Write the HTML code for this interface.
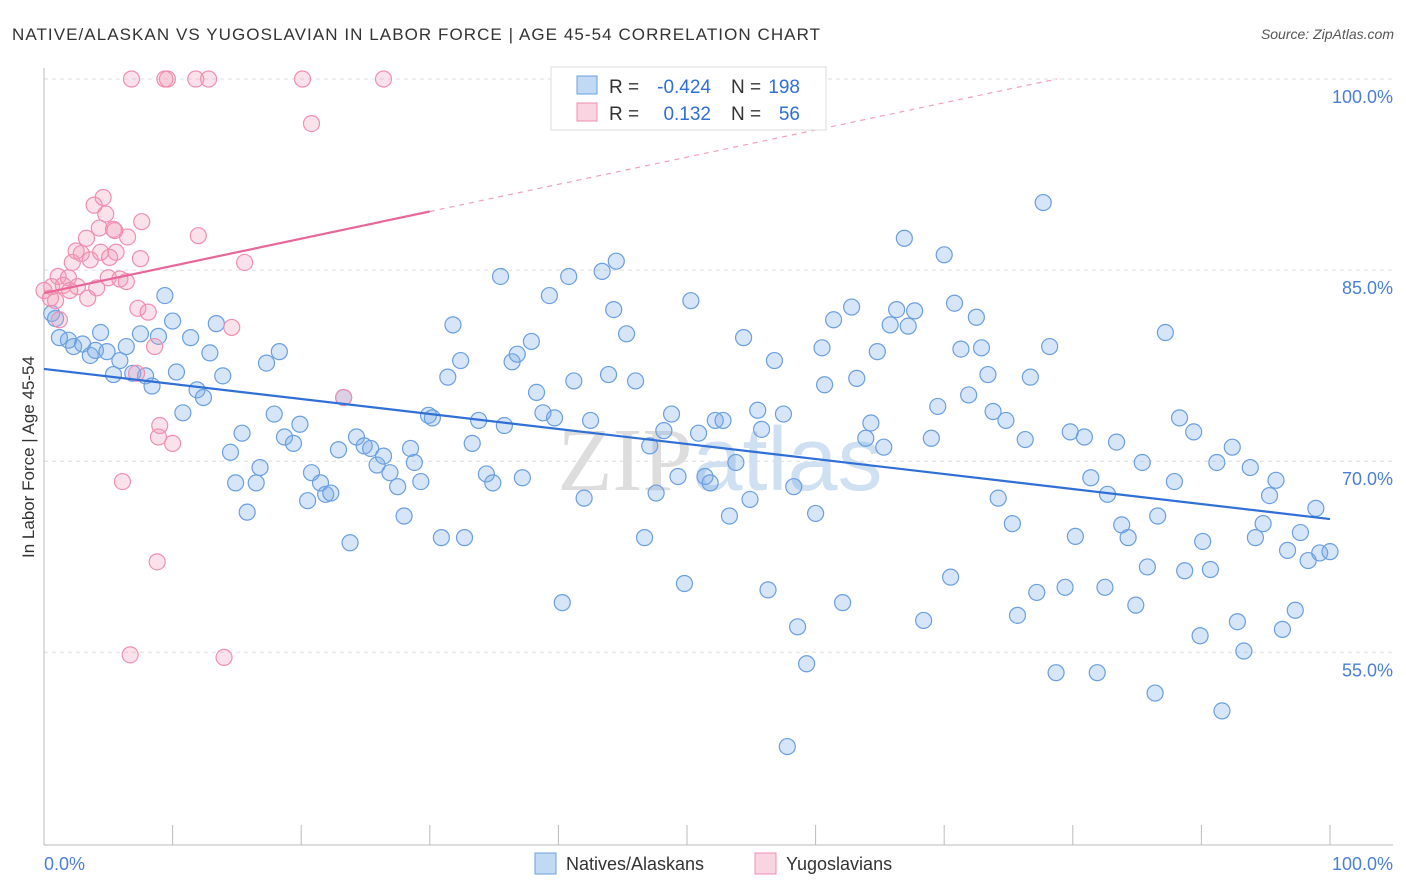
<!DOCTYPE html>
<html><head><meta charset="utf-8"><style>
body{margin:0;background:#fff;font-family:"Liberation Sans",sans-serif;}
#wrap{position:relative;width:1406px;height:892px;overflow:hidden;}
</style></head><body>
<div id="wrap">
<svg id="chart" width="1406" height="892" xmlns="http://www.w3.org/2000/svg">
<text x="12" y="40" font-size="17" fill="#333" textLength="808" lengthAdjust="spacing">NATIVE/ALASKAN VS YUGOSLAVIAN IN LABOR FORCE | AGE 45-54 CORRELATION CHART</text>
<text x="1394" y="39" font-size="14" fill="#555" font-style="italic" text-anchor="end">Source: ZipAtlas.com</text>
<text x="720" y="490" font-size="90" fill="#ddd" font-family="Liberation Serif,serif" text-anchor="middle">ZIP<tspan font-family="Liberation Sans,sans-serif" fill="#cfe0f3">atlas</tspan></text>
<g id="grid"></g>
<g id="axes"></g>
<g id="pts"></g>
<g id="lines"></g>
<text transform="translate(34,457) rotate(-90)" font-size="17" fill="#333" text-anchor="middle">In Labor Force | Age 45-54</text>
<g>
<rect x="551" y="67" width="275" height="63" fill="#fff" stroke="#ddd"/>
<rect x="577" y="76" width="20" height="18" fill="rgba(120,170,230,0.45)" stroke="#6a9fe0"/>
<rect x="577" y="103" width="20" height="18" fill="rgba(240,150,180,0.4)" stroke="#f08fb0"/>
<text x="609" y="93" font-size="19" fill="#333">R =</text>
<text x="711" y="93" font-size="19" fill="#2f6fd6" text-anchor="end">-0.424</text>
<text x="731" y="93" font-size="19" fill="#333">N =</text>
<text x="800" y="93" font-size="19" fill="#2f6fd6" text-anchor="end">198</text>
<text x="609" y="120" font-size="19" fill="#333">R =</text>
<text x="711" y="120" font-size="19" fill="#2f6fd6" text-anchor="end">0.132</text>
<text x="731" y="120" font-size="19" fill="#333">N =</text>
<text x="800" y="120" font-size="19" fill="#2f6fd6" text-anchor="end">56</text>
</g>
<g>
<rect x="535" y="853" width="21" height="21" fill="rgba(120,170,230,0.45)" stroke="#6a9fe0"/>
<text x="566" y="870" font-size="18" fill="#333">Natives/Alaskans</text>
<rect x="755" y="853" width="21" height="21" fill="rgba(240,150,180,0.4)" stroke="#f08fb0"/>
<text x="786" y="870" font-size="18" fill="#333">Yugoslavians</text>
</g>
</svg>
</div>
<script>
const blueX=[0.6,0.9,1.2,1.9,2.3,3.0,3.6,4.0,4.4,4.9,5.4,5.9,6.4,6.9,7.5,7.9,8.4,8.9,9.4,10.0,10.3,10.8,11.4,11.9,12.4,12.9,13.4,13.9,14.5,14.9,15.4,15.8,16.5,16.8,17.3,17.9,18.3,18.7,19.4,19.9,20.5,20.8,21.5,21.9,22.3,22.9,23.3,23.8,24.3,24.9,25.4,25.9,26.4,26.9,27.5,28.0,28.5,28.8,29.3,29.9,30.2,30.9,31.4,31.8,32.4,32.7,33.3,33.8,34.4,34.9,35.5,35.8,36.4,36.8,37.2,37.9,38.3,38.8,39.3,39.7,40.3,40.8,41.2,42.0,42.5,43.4,43.9,44.3,44.5,45.3,46.0,46.7,47.1,47.6,48.2,48.8,49.3,49.8,50.3,50.9,51.4,51.8,52.2,52.8,53.3,53.8,54.4,54.9,55.5,55.8,56.3,56.8,57.5,57.8,58.3,58.6,59.3,60.0,60.5,60.7,61.4,62.1,62.8,63.2,63.9,64.3,64.8,65.3,65.8,66.3,66.9,67.2,67.7,68.4,69.0,69.5,70.0,70.5,70.8,71.3,71.9,72.5,72.9,73.4,73.8,74.2,74.8,75.3,75.7,76.3,76.7,77.2,77.7,78.2,78.7,79.4,79.8,80.2,80.9,81.4,81.9,82.5,82.7,83.4,83.8,84.3,84.9,85.4,85.8,86.4,86.6,87.2,87.9,88.3,88.7,89.4,89.9,90.1,90.7,91.2,91.6,92.4,92.8,93.3,93.8,94.2,94.8,95.3,95.8,96.3,96.7,97.3,97.7,98.3,98.9,99.2,100.0];
const blueY=[81.6,81.2,79.7,79.5,79.0,79.2,78.3,78.7,80.1,78.6,76.8,77.9,79.0,76.9,80.0,76.7,75.9,79.8,83.0,81.0,77.0,73.8,79.7,75.6,75.0,78.5,80.8,76.7,70.7,68.3,72.2,66.0,68.3,69.5,77.7,73.7,78.6,71.9,71.4,72.9,66.9,69.1,68.3,67.4,67.5,70.9,75.0,63.6,71.9,71.2,71.0,69.7,70.4,69.1,68.0,65.7,71.0,69.9,68.4,73.6,73.4,64.0,76.6,80.7,77.9,64.0,71.4,73.2,69.0,68.3,84.5,72.8,77.8,78.4,68.7,79.4,75.4,73.8,83.0,73.4,58.9,84.5,76.3,67.1,73.2,84.9,76.8,81.9,85.7,80.0,76.3,64.0,71.2,67.5,72.4,73.7,68.8,60.4,82.6,72.2,68.8,68.3,73.2,73.2,65.7,69.9,79.7,67.0,74.0,72.5,59.9,77.9,73.7,47.6,68.0,57.0,54.1,65.9,78.9,76.0,81.1,58.9,82.1,76.5,71.8,73.0,78.6,71.1,80.7,81.9,87.5,80.6,81.8,57.5,71.8,74.3,86.2,60.9,82.4,78.8,75.2,81.3,78.9,76.8,73.9,67.1,73.2,65.1,57.9,71.7,76.6,59.7,90.3,79.0,53.4,60.1,72.3,64.1,71.9,68.7,53.4,60.1,67.4,71.5,65.0,64.0,58.7,69.9,61.7,51.8,65.7,80.1,68.4,73.4,61.4,72.3,56.3,63.7,61.5,69.9,50.4,71.1,57.4,55.1,69.5,64.0,65.1,67.3,68.5,56.8,63.0,58.3,64.4,62.2,66.3,62.8,62.9];
const pinkX=[0.0,0.5,0.6,0.9,1.1,1.2,1.5,1.9,2.2,2.5,2.6,2.9,3.3,3.4,3.6,3.9,4.1,4.3,4.4,4.6,4.8,5.0,5.1,5.4,5.6,5.9,6.1,6.4,6.5,6.8,7.2,7.3,7.5,7.6,8.1,8.6,8.8,8.9,9.0,9.4,9.6,10.0,11.8,12.0,12.8,14.0,14.6,15.6,20.1,20.8,23.3,26.4,6.7,5.5,2.0];
const pinkY=[83.4,82.8,83.7,82.6,84.5,81.1,83.8,84.4,85.6,86.5,83.7,86.3,87.5,82.8,85.8,90.1,83.6,88.3,86.4,90.7,89.4,84.4,86.0,88.2,86.4,84.3,68.4,84.1,87.6,100,76.9,82.0,85.9,88.8,81.7,79.0,62.1,71.9,72.8,100,100,71.4,100,87.7,100,54.6,80.5,85.6,100,96.5,75.0,100,54.8,88.1,83.4];
const blueTrend=[77.24,65.46];
const pinkTrend=[83.2,89.6];
const yTicks=[100,85,70,55];
const xTickCount=11;

const NS="http://www.w3.org/2000/svg";
const X0=44,X1=1330,YT=79,YS=12.74;
const xs=v=>X0+(X1-X0)*v/100;
const ys=v=>YT+(100-v)*YS;
function mk(tag,attrs,parent){const e=document.createElementNS(NS,tag);for(const k in attrs)e.setAttribute(k,attrs[k]);parent.appendChild(e);return e;}
const grid=document.getElementById('grid'),axes=document.getElementById('axes'),pts=document.getElementById('pts'),lines=document.getElementById('lines');
yTicks.forEach(t=>{
 const l=mk('line',{x1:X0,x2:1393,y1:ys(t),y2:ys(t),stroke:'#ddd','stroke-dasharray':'4,4'},grid);
 
 
 const tx=mk('text',{x:1393,y:ys(t)+24,'font-size':18,fill:'#4a7fd8','text-anchor':'end'},grid);
 tx.textContent=t.toFixed(1)+'%';
 
 
});
const xa=mk('line',{x1:X0,x2:1393,y1:845,y2:845,stroke:'#bbb'},axes);


const ya=mk('line',{x1:X0,x2:X0,y1:68,y2:845,stroke:'#bbb'},axes);


for(let i=0;i<xTickCount;i++){
 const v=i*100/(xTickCount-1);
 const t=mk('line',{x1:xs(v),x2:xs(v),y1:825,y2:845,stroke:'#bbb'},axes);
 
 
}
[[0,'start','0.0%'],[100,'end','100.0%']].forEach(a=>{
 const t=mk('text',{x:a[0]==0?44:1393,y:870,'font-size':18,fill:'#4a7fd8','text-anchor':a[1]},axes);
 t.textContent=a[2];
 
 
});
blueX.forEach((x,i)=>{
 const c=mk('circle',{cx:xs(x),cy:ys(blueY[i]),r:8,fill:'rgba(120,170,230,0.3)',stroke:'#6a9fe0','stroke-width':1.2},pts);
 
 
});
pinkX.forEach((x,i)=>{
 const c=mk('circle',{cx:xs(x),cy:ys(pinkY[i]),r:8,fill:'rgba(240,150,180,0.28)',stroke:'#f08fb0','stroke-width':1.2},pts);
 
 
});
const bl=mk('line',{x1:xs(0),y1:ys(blueTrend[0]),x2:xs(100),y2:ys(blueTrend[1]),stroke:'#2f6fd6','stroke-width':2.2},lines);


const slope=(pinkTrend[1]-pinkTrend[0])/30;
const pl=mk('line',{x1:xs(0),y1:ys(pinkTrend[0]),x2:xs(30),y2:ys(pinkTrend[1]),stroke:'#e8679a','stroke-width':2.2},lines);


const xe=(100-pinkTrend[0])/slope;
const pd=mk('line',{x1:xs(30),y1:ys(pinkTrend[1]),x2:xs(xe),y2:ys(100),stroke:'#f0a0bc','stroke-width':1.2,'stroke-dasharray':'5,5'},lines);


</script>
</body></html>
